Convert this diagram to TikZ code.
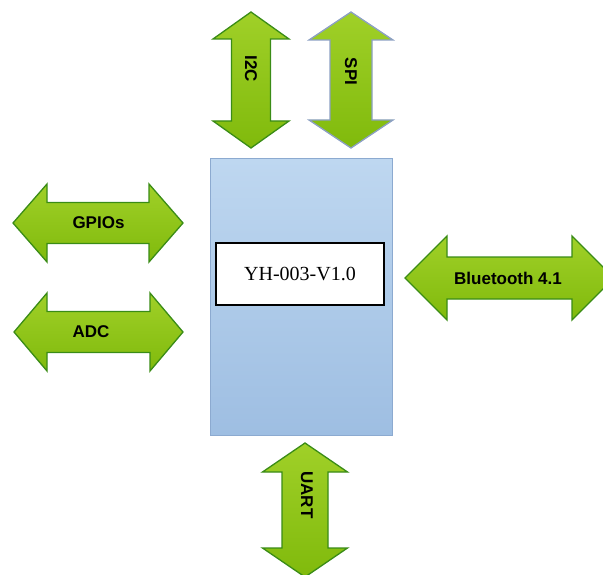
\documentclass[tikz,border=0pt]{standalone}
\usepackage{fontspec}
\setmainfont{Liberation Serif}
\newfontfamily\arialfont{Liberation Sans}
\definecolor{arrowtop}{RGB}{160,208,40}
\definecolor{arrowbot}{RGB}{128,186,12}
\definecolor{arrowline}{RGB}{58,140,22}
\definecolor{spiline}{RGB}{140,160,195}
\definecolor{boxtop}{RGB}{190,215,240}
\definecolor{boxbot}{RGB}{158,190,226}
\definecolor{boxline}{RGB}{140,170,208}
\newcommand{\harrow}[6]{% x1, x2, c, L, H, S
  \path[arrowshape] (#1,#3) -- ({#1+#4},{#3-#5}) -- ({#1+#4},{#3-#6}) -- ({#2-#4},{#3-#6}) -- ({#2-#4},{#3-#5}) -- (#2,#3) -- ({#2-#4},{#3+#5}) -- ({#2-#4},{#3+#6}) -- ({#1+#4},{#3+#6}) -- ({#1+#4},{#3+#5}) -- cycle;}
\newcommand{\varrow}[7]{% c, y1, y2, L, H, S, style
  \path[arrowshape,#7] (#1,#2) -- ({#1+#5},{#2+#4}) -- ({#1+#6},{#2+#4}) -- ({#1+#6},{#3-#4}) -- ({#1+#5},{#3-#4}) -- (#1,#3) -- ({#1-#5},{#3-#4}) -- ({#1-#6},{#3-#4}) -- ({#1-#6},{#2+#4}) -- ({#1-#5},{#2+#4}) -- cycle;}
\begin{document}
\begin{tikzpicture}[x=1pt,y=-1pt,
  arrowshape/.style={draw=arrowline,line width=1.3pt,line join=miter,top color=arrowtop,bottom color=arrowbot},
  arrowtext/.style={font=\arialfont\bfseries\fontsize{17}{19}\selectfont,text=black,inner sep=0pt},
  mainbox/.style={draw=boxline,line width=1pt,top color=boxtop,bottom color=boxbot},
  chipbox/.style={draw=black,line width=1.3pt,fill=white,font=\fontsize{20}{23}\selectfont,inner sep=0pt}]
\useasboundingbox (0,0) rectangle (603,575);
\begin{scope}
\clip (0,0) rectangle (603,575);
% main block
\path[mainbox] (210,159) rectangle (392,435);
\node[chipbox,minimum width=168pt,minimum height=62pt] (chip) at (300,274) {YH-003-V1.0\hspace{18pt}};
% arrows
\harrow{13}{183}{223}{34}{39}{20.5}
\harrow{14}{183}{332}{33}{39}{20.5}
\harrow{405}{614}{278}{42}{42}{21}
\varrow{251}{12}{148}{27}{38}{19.5}{}
\varrow{351}{12}{148}{28}{42}{21}{draw=spiline}
\varrow{305}{443}{577}{29}{42.5}{23}{}
% labels
\node[arrowtext] (gpio) at (98.5,223) {GPIOs};
\node[arrowtext] (adc) at (91,332) {ADC};
\node[arrowtext] (bt) at (508,278) {Bluetooth 4.1};
\node[arrowtext,rotate=-90] (i2c) at (251,69) {I2C};
\node[arrowtext,rotate=-90] (spi) at (351,71.5) {SPI};
\node[arrowtext,rotate=-90] (uart) at (307,495) {UART};
\end{scope}
\end{tikzpicture}
\end{document}
